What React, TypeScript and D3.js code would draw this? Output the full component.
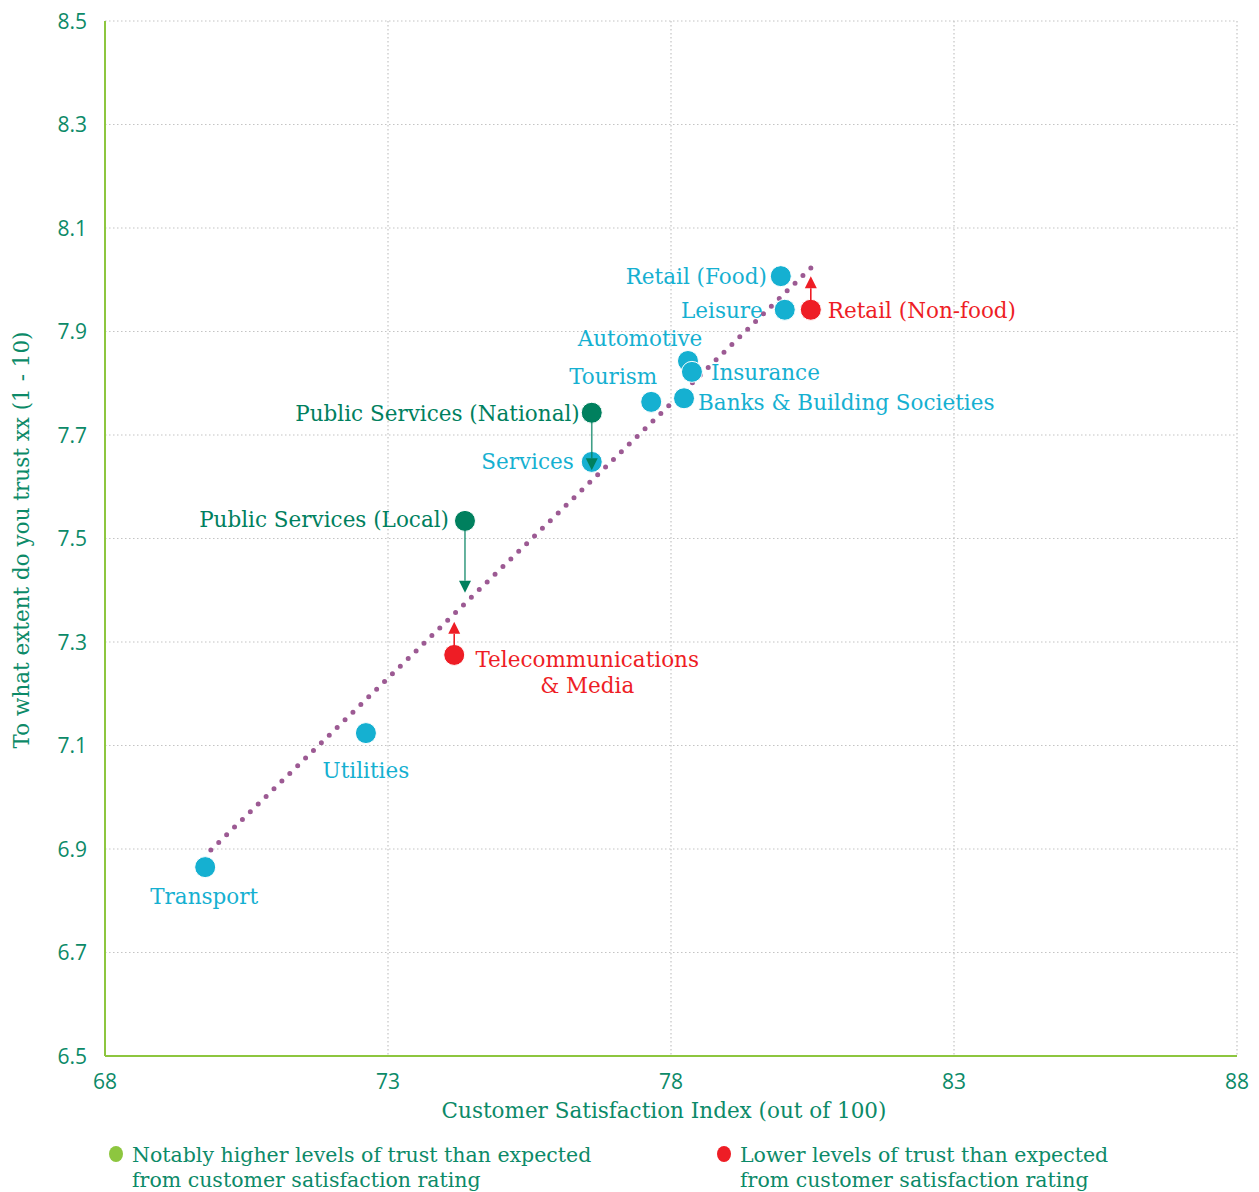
import React from "react";
import * as d3 from "d3";

// Sector scores: customer satisfaction index vs. trust rating
const sectors = [
  "Transport",
  "Utilities",
  "Telecommunications & Media",
  "Public Services (Local)",
  "Services",
  "Public Services (National)",
  "Tourism",
  "Banks & Building Societies",
  "Automotive",
  "Insurance",
  "Leisure",
  "Retail (Food)",
  "Retail (Non-food)",
];
const satisfaction = [69.77, 72.61, 74.17, 74.36, 76.6, 76.6, 77.65, 78.23, 78.3, 78.37, 80.01, 79.94, 80.47];
const trust = [6.865, 7.124, 7.275, 7.534, 7.648, 7.743, 7.764, 7.771, 7.843, 7.822, 7.942, 8.007, 7.942];
// group: 0 = in line, 1 = higher than expected, 2 = lower than expected
const group = [0, 0, 2, 1, 0, 1, 0, 0, 0, 0, 0, 0, 2];

// Where the arrows point (expected trust given satisfaction)
const arrowFrom = ["Public Services (Local)", "Public Services (National)", "Telecommunications & Media", "Retail (Non-food)"];
const arrowTo = [7.395, 7.632, 7.339, 8.007];

// Trend line end points
const trendX = [69.87, 80.49];
const trendY = [6.898, 8.025];

const xTicks = [68, 73, 78, 83, 88];
const yTicks = [6.5, 6.7, 6.9, 7.1, 7.3, 7.5, 7.7, 7.9, 8.1, 8.3, 8.5];

const legendText = [
  ["Notably higher levels of trust than expected", "from customer satisfaction rating"],
  ["Lower levels of trust than expected", "from customer satisfaction rating"],
];

// Label placement per sector: [dx, dy, anchor]
const labelLayout: [number, number, string][] = [
  [-1, 37, "middle"],
  [0, 45, "middle"],
  [133, 12, "middle"],
  [-16, 6, "end"],
  [-18, 7, "end"],
  [-12, 8, "end"],
  [6, -18, "end"],
  [14, 12, "start"],
  [-48, -15, "middle"],
  [19, 8, "start"],
  [-22, 8, "end"],
  [-14, 8, "end"],
  [17, 8, "start"],
];

const COLORS = ["#15b0d1", "#00805e", "#ee1d25"];
const TEXT = "#0c8a68";
const LABEL_FONT = "'DejaVu Serif', serif";
const TICK_FONT = "'Open Sans', sans-serif";
const LABEL_SIZE = 21.5;

export default function App() {
  const width = 1259;
  const height = 1192;
  const left = 105;
  const right = 1237;
  const top = 21;
  const bottom = 1056;

  const x = d3.scaleLinear().domain([68, 88]).range([left, right]);
  const y = d3.scaleLinear().domain([6.5, 8.5]).range([bottom, top]);

  const trendPath = d3.line<number>()
    .x((_, i) => x(trendX[i]))
    .y((_, i) => y(trendY[i]))([0, 1]) as string;

  return (
    <svg
      width={width}
      height={height}
      style={{ position: "absolute", left: 0, top: 0, background: "#fff" }}
    >
      {/* grid */}
      {yTicks.map((t) => (
        <line key={"gy" + t} x1={left} x2={right} y1={y(t)} y2={y(t)} stroke="#c4c4c4" strokeWidth={1.2} strokeDasharray="1.5 2.5" />
      ))}
      {xTicks.slice(1).map((t) => (
        <line key={"gx" + t} x1={x(t)} x2={x(t)} y1={top} y2={bottom} stroke="#c4c4c4" strokeWidth={1.2} strokeDasharray="1.5 2.5" />
      ))}

      {/* axes */}
      <line x1={left} x2={left} y1={top} y2={bottom} stroke="#8dc63f" strokeWidth={2} />
      <line x1={left} x2={right} y1={bottom} y2={bottom} stroke="#8dc63f" strokeWidth={2} />

      {yTicks.map((t) => (
        <text key={"ty" + t} x={87} y={y(t)} dy="0.36em" textAnchor="end" fontFamily={TICK_FONT} fontSize={21} fill={TEXT}>
          {t.toFixed(1)}
        </text>
      ))}
      {xTicks.map((t) => (
        <text key={"tx" + t} x={x(t)} y={1089} textAnchor="middle" fontFamily={TICK_FONT} fontSize={21} fill={TEXT}>
          {t}
        </text>
      ))}

      <text x={664} y={1118} textAnchor="middle" fontFamily={LABEL_FONT} fontSize={LABEL_SIZE} fill={TEXT}>
        Customer Satisfaction Index (out of 100)
      </text>
      <text
        transform={`translate(29,540) rotate(-90)`}
        textAnchor="middle"
        fontFamily={LABEL_FONT}
        fontSize={LABEL_SIZE}
        fill={TEXT}
      >
        To what extent do you trust xx (1 - 10)
      </text>

      {/* trend line */}
      <path d={trendPath} stroke="#9c5a93" strokeWidth={5} strokeLinecap="round" strokeDasharray="0 11" fill="none" />

      {/* points */}
      {sectors.map((s, i) => (
        <circle key={"c" + s} cx={x(satisfaction[i])} cy={y(trust[i])} r={10.5} fill={COLORS[group[i]]} stroke="#fff" strokeWidth={1} />
      ))}

      {/* arrows */}
      {arrowFrom.map((s, k) => {
        const i = sectors.indexOf(s);
        const cx = x(satisfaction[i]);
        const y0 = y(trust[i]);
        const y1 = y(arrowTo[k]);
        const dir = y1 > y0 ? 1 : -1;
        const c = COLORS[group[i]];
        const headLen = 12;
        return (
          <g key={"a" + s}>
            <line x1={cx} x2={cx} y1={y0 + dir * 9} y2={y1 - dir * headLen} stroke={c} strokeWidth={1.6} opacity={group[i] === 1 ? 0.75 : 1} />
            <path d={`M${cx - 6},${y1 - dir * headLen} L${cx + 6},${y1 - dir * headLen} L${cx},${y1} Z`} fill={c} />
          </g>
        );
      })}

      {/* labels */}
      {sectors.map((s, i) => {
        const [dx, dy, anchor] = labelLayout[i];
        const lx = x(satisfaction[i]) + dx;
        const ly = y(trust[i]) + dy;
        const lines = s === "Telecommunications & Media" ? ["Telecommunications", "& Media"] : [s];
        return (
          <text key={"l" + s} x={lx} y={ly} textAnchor={anchor as any} fontFamily={LABEL_FONT} fontSize={LABEL_SIZE} fill={COLORS[group[i]]}>
            {lines.map((t, j) => (
              <tspan key={j} x={lx} dy={j === 0 ? 0 : 26}>
                {t}
              </tspan>
            ))}
          </text>
        );
      })}

      {/* legend */}
      {legendText.map((lines, k) => {
        const lx = k === 0 ? 116 : 724;
        return (
          <g key={"lg" + k}>
            <ellipse cx={lx} cy={1154} rx={7} ry={8} fill={k === 0 ? "#8dc63f" : "#ee1d25"} />
            <text x={lx + 16} y={1162} fontFamily={LABEL_FONT} fontSize={20.5} fill={TEXT}>
              <tspan x={lx + 16}>{lines[0]}</tspan>
              <tspan x={lx + 16} dy={25}>{lines[1]}</tspan>
            </text>
          </g>
        );
      })}
    </svg>
  );
}
